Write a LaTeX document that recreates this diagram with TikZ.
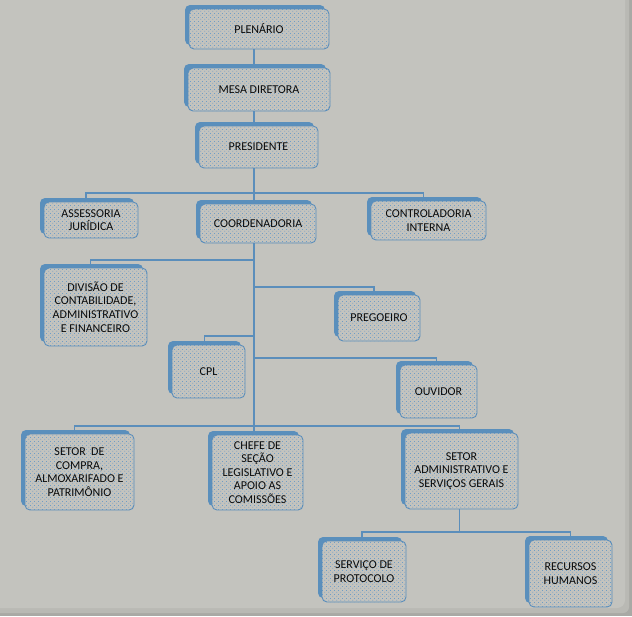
\documentclass[tikz,border=0pt]{standalone}
\usepackage{fontspec}
\setmainfont{Carlito}
\usetikzlibrary{patterns.meta,shadows}
\definecolor{bg}{HTML}{C3C3BE}
\definecolor{bgmid}{HTML}{B9B9B4}
\definecolor{bgdark}{HTML}{A9A9A5}
\definecolor{lineblue}{HTML}{5B8EBB}
\definecolor{shadowblue}{HTML}{5A8FBC}
\definecolor{dotblue}{HTML}{6F9DC6}
\definecolor{txt}{HTML}{0A0A0A}
\tikzdeclarepattern{name=boxdots, type=uncolored,
  bounding box={(0pt,0pt) and (4pt,4pt)}, tile size={(4pt,4pt)},
  code={\fill (0.5pt,0.5pt) rectangle (1.5pt,1.5pt);
        \fill (2.5pt,2.5pt) rectangle (3.5pt,3.5pt);}}
\tikzset{
  orgbox/.style={draw=lineblue, line width=0.9pt, rounded corners=5pt,
    general shadow={fill=shadowblue, shadow xshift=-4pt, shadow yshift=4pt, rounded corners=5pt},
    preaction={fill=bg}, pattern=boxdots, pattern color=dotblue,
    align=center, inner sep=1pt, text=txt,
    font=\fontsize{12}{13.6}\selectfont},
  conn/.style={draw=lineblue, line width=1.2pt}
}
\begin{document}
\begin{tikzpicture}[x=1pt,y=-1pt]
\useasboundingbox (0,0) rectangle (632,616);
\fill[bgdark] (0,0) rectangle (632,616);
\fill[bgmid, rounded corners=6pt] (-10,-10) rectangle (629,613);
\fill[bg, rounded corners=8pt] (-10,-10) rectangle (625,608);

\node[orgbox, minimum width=140pt, minimum height=40pt] (plen) at (259,29) {PLENÁRIO};
\node[orgbox, minimum width=142pt, minimum height=43pt] (mesa) at (259,89.5) {MESA DIRETORA};
\node[orgbox, minimum width=119pt, minimum height=42pt] (pres) at (258.5,147) {PRESIDENTE};
\node[orgbox, minimum width=94pt, minimum height=36pt] (asse) at (91,220) {ASSESSORIA\\JURÍDICA};
\node[orgbox, minimum width=116pt, minimum height=39pt] (coord) at (258,223.5) {COORDENADORIA};
\node[orgbox, minimum width=115pt, minimum height=39pt] (ctrl) at (428.5,220.5) {CONTROLADORIA\\INTERNA};
\node[orgbox, minimum width=103pt, minimum height=78pt] (div) at (95.5,307) {DIVISÃO DE\\CONTABILIDADE,\\ADMINISTRATIVO\\E FINANCEIRO};
\node[orgbox, minimum width=82pt, minimum height=46pt] (prec) at (379,318) {PREGOEIRO};
\node[orgbox, minimum width=73pt, minimum height=53pt] (cpl) at (208.5,371.5) {CPL};
\node[orgbox, minimum width=77pt, minimum height=53pt] (ouv) at (438.5,391.5) {OUVIDOR};
\node[orgbox, minimum width=109pt, minimum height=76pt] (comp) at (79.5,472) {SETOR\ \ DE\\COMPRA,\\ALMOXARIFADO E\\PATRIMÔNIO};
\node[orgbox, minimum width=91pt, minimum height=75pt] (chefe) at (257.5,472.5) {CHEFE DE\\SEÇÃO\\LEGISLATIVO E\\APOIO AS\\COMISSÕES};
\node[orgbox, minimum width=113pt, minimum height=76pt] (adm) at (461.5,471) {SETOR\\ADMINISTRATIVO E\\SERVIÇOS GERAIS};
\node[orgbox, minimum width=84pt, minimum height=61pt] (prot) at (364,571.5) {SERVIÇO DE\\PROTOCOLO};
\node[orgbox, minimum width=83pt, minimum height=67pt] (rh) at (570.5,573.5) {RECURSOS\\HUMANOS};

\coordinate (T) at ([xshift=-4pt]coord.south);
\coordinate (y1) at (0,193);
\coordinate (y2) at (0,260);
\coordinate (y3) at (0,287);
\coordinate (y4) at (0,336);
\coordinate (y5) at (0,358);
\coordinate (y6) at (0,426);
\coordinate (y7) at (0,532);
\coordinate (A) at ([xshift=-2pt]adm.south);

\draw[conn] ([xshift=-5pt]plen.south) -- ([xshift=-5pt]plen.south |- mesa.north);
\draw[conn] ([xshift=-5pt]mesa.south) -- ([xshift=-5pt]mesa.south |- pres.north);
\draw[conn] ([xshift=-4.5pt]pres.south) -- ([xshift=-4.5pt]pres.south |- coord.north);
\draw[conn] ([xshift=-5pt]asse.north) |- (T |- y1) -| ([xshift=-5pt]ctrl.north);
\draw[conn] (T) -- (T |- chefe.north);
\draw[conn] ([xshift=-5pt]div.north) |- (T |- y2);
\draw[conn] ([xshift=-5pt]prec.north) |- (T |- y3);
\draw[conn] ([xshift=-4pt]cpl.north) |- (T |- y4);
\draw[conn] ([xshift=-2pt]ouv.north) |- (T |- y5);
\draw[conn] ([xshift=-5pt]comp.north) |- (T |- y6) -| (A |- adm.north);
\draw[conn] (A) -- (A |- y7);
\draw[conn] ([xshift=-2pt]prot.north) |- (A |- y7) -| (rh.north);
\end{tikzpicture}
\end{document}
